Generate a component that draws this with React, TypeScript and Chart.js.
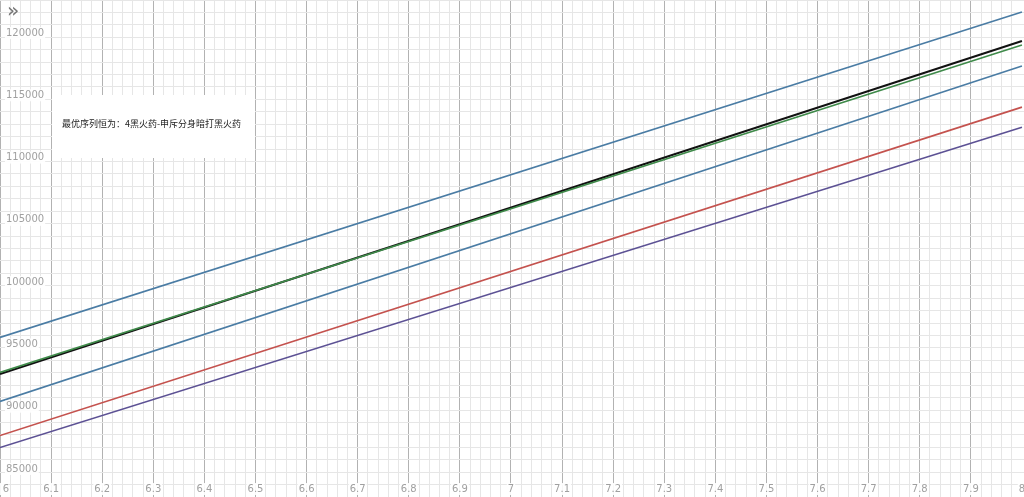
import { useEffect, useRef } from 'react';
import { Chart, registerables } from 'chart.js';

Chart.register(...registerables);

// x range of the graph window
const xRange = [6, 8.004];
const yRange = [82750, 122650];

// each line is read at x = 6 and x = 8
const lineX = [6, 8];
const topBlue = [95560, 121690];
const blackLine = [92630, 119360];
const greenLine = [92750, 119040];
const lowerBlue = [90420, 117350];
const redLine = [87690, 114050];
const purpleLine = [86720, 112440];

const xTickLabels = ['6', '6.1', '6.2', '6.3', '6.4', '6.5', '6.6', '6.7', '6.8', '6.9', '7', '7.1', '7.2', '7.3', '7.4', '7.5', '7.6', '7.7', '7.8', '7.9', '8'];
const yTickLabels = ['85000', '90000', '95000', '100000', '105000', '110000', '115000', '120000'];

const note = '最优序列恒为：4黑火药-申斥分身暗打黑火药';

const toPoints = (ys: number[]) => lineX.map((x, i) => ({ x, y: ys[i] }));

const isMajor = (v: number, step: number) => Math.abs(v / step - Math.round(v / step)) < 1e-6;

const overlay = {
  id: 'overlay',
  afterDraw(chart: Chart) {
    const { ctx } = chart;
    const xs = chart.scales.x;
    const ys = chart.scales.y;
    ctx.save();
    ctx.font = '10px "DejaVu Sans", sans-serif';
    ctx.textBaseline = 'middle';

    // y labels pinned to the left edge
    ctx.textAlign = 'left';
    yTickLabels.forEach((t) => {
      const py = ys.getPixelForValue(Number(t));
      const w = ctx.measureText(t).width;
      ctx.fillStyle = 'rgba(255,255,255,0.9)';
      ctx.fillRect(5, py - 6, w + 2, 12);
      ctx.fillStyle = '#a0a0a0';
      ctx.fillText(t, 6, py);
    });

    // x labels pinned to the bottom edge
    ctx.textAlign = 'center';
    xTickLabels.forEach((t) => {
      const px = xs.getPixelForValue(Number(t));
      const w = ctx.measureText(t).width;
      ctx.fillStyle = 'rgba(255,255,255,0.9)';
      ctx.fillRect(px - w / 2 - 1, 483, w + 2, 12);
      ctx.fillStyle = '#a0a0a0';
      ctx.fillText(t, Math.max(px, 6), 489);
    });

    // collapse icon
    ctx.fillStyle = '#777';
    ctx.font = '20px "DejaVu Sans", sans-serif';
    ctx.textAlign = 'center';
    ctx.fillText('»', 13, 12);

    // note box
    ctx.fillStyle = '#fff';
    ctx.fillRect(52, 95, 203, 63);
    ctx.fillStyle = '#222';
    ctx.font = '9px "Noto Sans CJK SC", sans-serif';
    ctx.textAlign = 'left';
    ctx.fillText(note, 62, 124);
    ctx.restore();
  },
};

export default function App() {
  const canvasRef = useRef<HTMLCanvasElement>(null);
  const chartRef = useRef<Chart | null>(null);

  useEffect(() => {
    if (!canvasRef.current) return;
    if (chartRef.current) chartRef.current.destroy();

    const line = (data: number[], color: string, width = 1.6) => ({
      data: toPoints(data),
      borderColor: color,
      borderWidth: width,
      pointRadius: 0,
      fill: false,
    });

    chartRef.current = new Chart(canvasRef.current, {
      type: 'line',
      data: {
        datasets: [
          line(topBlue, '#4a7ca4'),
          line(lowerBlue, '#4a7ca4'),
          line(redLine, '#c4524e'),
          line(purpleLine, '#5c5194'),
          line(greenLine, '#3f8a4a'),
          line(blackLine, '#111', 2),
        ],
      },
      options: {
        animation: false,
        responsive: true,
        maintainAspectRatio: false,
        layout: { padding: 0 },
        plugins: { legend: { display: false }, tooltip: { enabled: false } },
        scales: {
          x: {
            type: 'linear',
            min: xRange[0],
            max: xRange[1],
            border: { display: false },
            ticks: { display: false, stepSize: 0.02 },
            grid: {
              drawTicks: false,
              color: (c: any) => (isMajor(c.tick.value, 0.1) ? '#b2b2b2' : '#e6e6e6'),
              lineWidth: 1,
            },
          },
          y: {
            type: 'linear',
            min: yRange[0],
            max: yRange[1],
            border: { display: false },
            ticks: { display: false, stepSize: 1000 },
            grid: {
              drawTicks: false,
              color: (c: any) => (isMajor(c.tick.value, 5000) ? '#b2b2b2' : '#e6e6e6'),
              lineWidth: 1,
            },
          },
        },
      },
      plugins: [overlay],
    });

    return () => {
      chartRef.current?.destroy();
      chartRef.current = null;
    };
  }, []);

  return (
    <div style={{ position: 'fixed', left: 0, top: 0, width: 1024, height: 497, background: '#fff' }}>
      <canvas ref={canvasRef} />
    </div>
  );
}
